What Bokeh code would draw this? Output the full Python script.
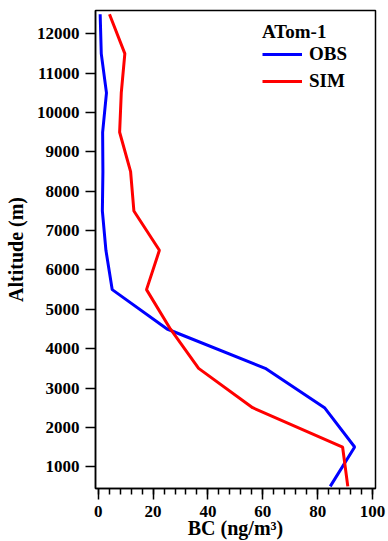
from bokeh.plotting import figure
from bokeh.models import Range1d, SingleIntervalTicker, FixedTicker, Legend, LegendItem
from bokeh.embed import file_html
from bokeh.resources import INLINE

altitude = [500, 1500, 2500, 3500, 4500, 5500, 6500, 7500, 8500, 9500, 10500, 11500, 12500]
obs_bc = [84.6, 93.5, 82.5, 60.9, 25.1, 5.1, 2.8, 1.5, 1.7, 1.6, 3.0, 1.1, 0.7]
sim_bc = [91.0, 89.1, 56.3, 36.6, 26.3, 17.6, 22.3, 13.0, 11.8, 7.8, 8.4, 9.7, 4.1]
y_ticks = [1000, 2000, 3000, 4000, 5000, 6000, 7000, 8000, 9000, 10000, 11000, 12000]

FONT = "Liberation Serif"

p = figure(width=388, height=541, output_backend="svg", toolbar_location=None,
           x_range=Range1d(-1.0, 101.1), y_range=Range1d(446, 12595),
           min_border_left=95, min_border_top=10, min_border_right=13, min_border_bottom=40)

r_obs = p.line(obs_bc, altitude, line_color="#0000FF", line_width=3)
r_sim = p.line(sim_bc, altitude, line_color="#FF0000", line_width=3)

p.xgrid.visible = False
p.ygrid.visible = False
p.outline_line_color = "black"
p.outline_line_width = 1.5
p.background_fill_color = "white"
p.border_fill_color = "white"

xa = p.xaxis[0]
xa.ticker = SingleIntervalTicker(interval=20, num_minor_ticks=5)
xa.axis_label = "BC (ng/m³)"
xa.major_tick_out = 11
xa.major_tick_in = 0
xa.minor_tick_out = 6
xa.minor_tick_in = 0
xa.major_label_standoff = 6
xa.axis_label_standoff = -3

ya = p.yaxis[0]
ya.ticker = FixedTicker(ticks=y_ticks)
ya.axis_label = "Altitude (m)"
ya.major_tick_out = 10
ya.major_tick_in = 0
ya.minor_tick_out = 0
ya.minor_tick_in = 0
ya.major_label_standoff = 6
ya.axis_label_standoff = 7

for ax in (xa, ya):
    ax.axis_line_width = 1.5
    ax.major_tick_line_width = 1.5
    ax.minor_tick_line_width = 1.5
    ax.axis_line_color = "black"
    ax.major_tick_line_color = "black"
    ax.minor_tick_line_color = "black"
    ax.major_label_text_font = FONT
    ax.major_label_text_font_style = "bold"
    ax.major_label_text_font_size = "17px"
    ax.major_label_text_color = "black"
    ax.axis_label_text_font = FONT
    ax.axis_label_text_font_style = "bold"
    ax.axis_label_text_font_size = "20px"
    ax.axis_label_text_color = "black"

legend = Legend(items=[LegendItem(label="OBS", renderers=[r_obs]),
                       LegendItem(label="SIM", renderers=[r_sim])],
                location=(167, 396))
legend.title = "ATom-1"
legend.title_text_font = FONT
legend.title_text_font_style = "bold"
legend.title_text_font_size = "19px"
legend.title_text_color = "black"
legend.title_standoff = -3
legend.label_text_font = FONT
legend.label_text_font_style = "bold"
legend.label_text_font_size = "19px"
legend.label_text_color = "black"
legend.glyph_width = 40
legend.glyph_height = 20
legend.label_standoff = 7
legend.spacing = 5
legend.padding = 2
legend.margin = 0
legend.border_line_color = None
legend.background_fill_alpha = 0
p.add_layout(legend, "center")

open("out.html", "w").write(file_html(p, INLINE))
